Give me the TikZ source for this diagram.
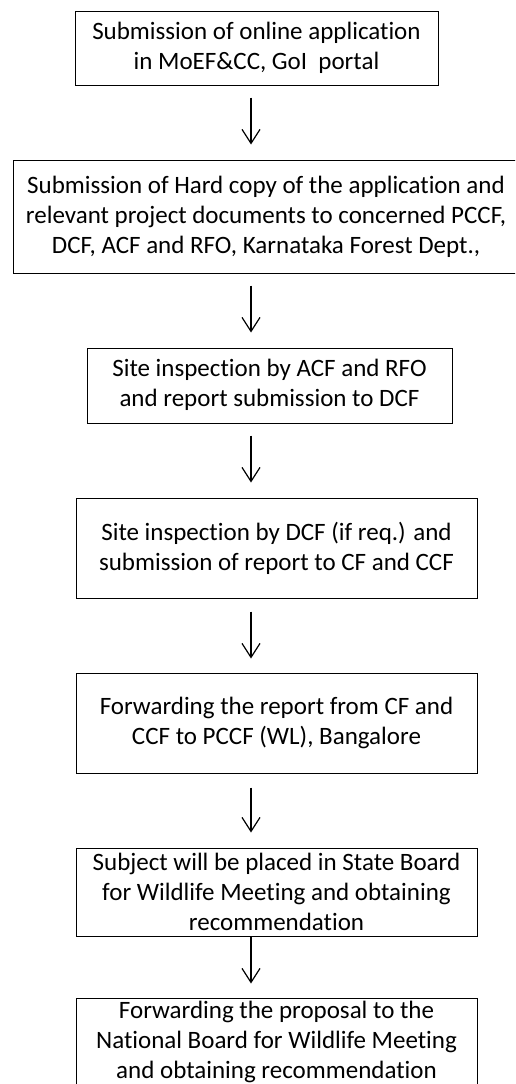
\documentclass[tikz,border=0pt]{standalone}
\usepackage{fontspec}
\setmainfont{Carlito}[Ligatures={NoCommon}]
\usetikzlibrary{arrows.meta, positioning}

\begin{document}
\begin{tikzpicture}[x=1pt, y=-1pt,
    stepbox/.style={draw, line width=1pt, align=center, inner sep=0pt,
                    font=\fontsize{25}{30}\selectfont, minimum width=401pt},
    flow/.style={-{Straight Barb[length=14pt,width=18pt]}, line width=1.2pt}]
						\useasboundingbox (0,0) rectangle (515,1084);
						\clip (0,0) rectangle (515,1084);
						
						\coordinate (ax) at (251,0);
						
						\node[stepbox, minimum width=363pt, minimum height=74pt] (online) at (256.5,48)
						    {Submission of online application\\ in MoEF\&CC, GoI\ \ portal};
						\node[stepbox, minimum width=506pt, minimum height=113pt] (hardcopy) at (266,216.5)
						    {Submission of Hard copy of the application and\\ relevant project documents to concerned PCCF,\\ DCF, ACF and RFO, Karnataka Forest Dept.,};
						\node[stepbox, minimum width=365pt, minimum height=75pt, text depth=6pt] (acfrfo) at (269.5,385.5)
						    {Site inspection by ACF and RFO\\ and report submission to DCF};
						\node[stepbox, minimum height=100pt] (dcf) at (276.5,548)
						    {Site inspection by DCF (if req.) and\\ submission of report to CF and CCF};
						\node[stepbox, minimum height=100pt] (pccf) at (276.5,723)
						    {Forwarding the report from CF and\\ CCF to PCCF (WL), Bangalore};
						\node[stepbox, minimum height=88pt] (state) at (276.5,892)
						    {Subject will be placed in State Board\\ for Wildlife Meeting and obtaining\\ recommendation};
						\node[stepbox, minimum height=88pt] (national) at (276.5,1042)
						    {Forwarding the proposal to the\\ National Board for Wildlife Meeting\\ and obtaining recommendation};
						
						\draw[flow, shorten <=12pt, shorten >=15pt] (online.south -| ax) -- (hardcopy.north -| ax);
						\draw[flow, shorten <=12pt, shorten >=15pt] (hardcopy.south -| ax) -- (acfrfo.north -| ax);
						\draw[flow, shorten <=12pt, shorten >=15pt] (acfrfo.south -| ax) -- (dcf.north -| ax);
						\draw[flow, shorten <=13pt, shorten >=14pt] (dcf.south -| ax) -- (pccf.north -| ax);
						\draw[flow, shorten <=14pt, shorten >=15pt] (pccf.south -| ax) -- (state.north -| ax);
						\draw[flow, shorten >=14pt] (state.south -| ax) -- (national.north -| ax);
					\end{tikzpicture}
\end{document}
